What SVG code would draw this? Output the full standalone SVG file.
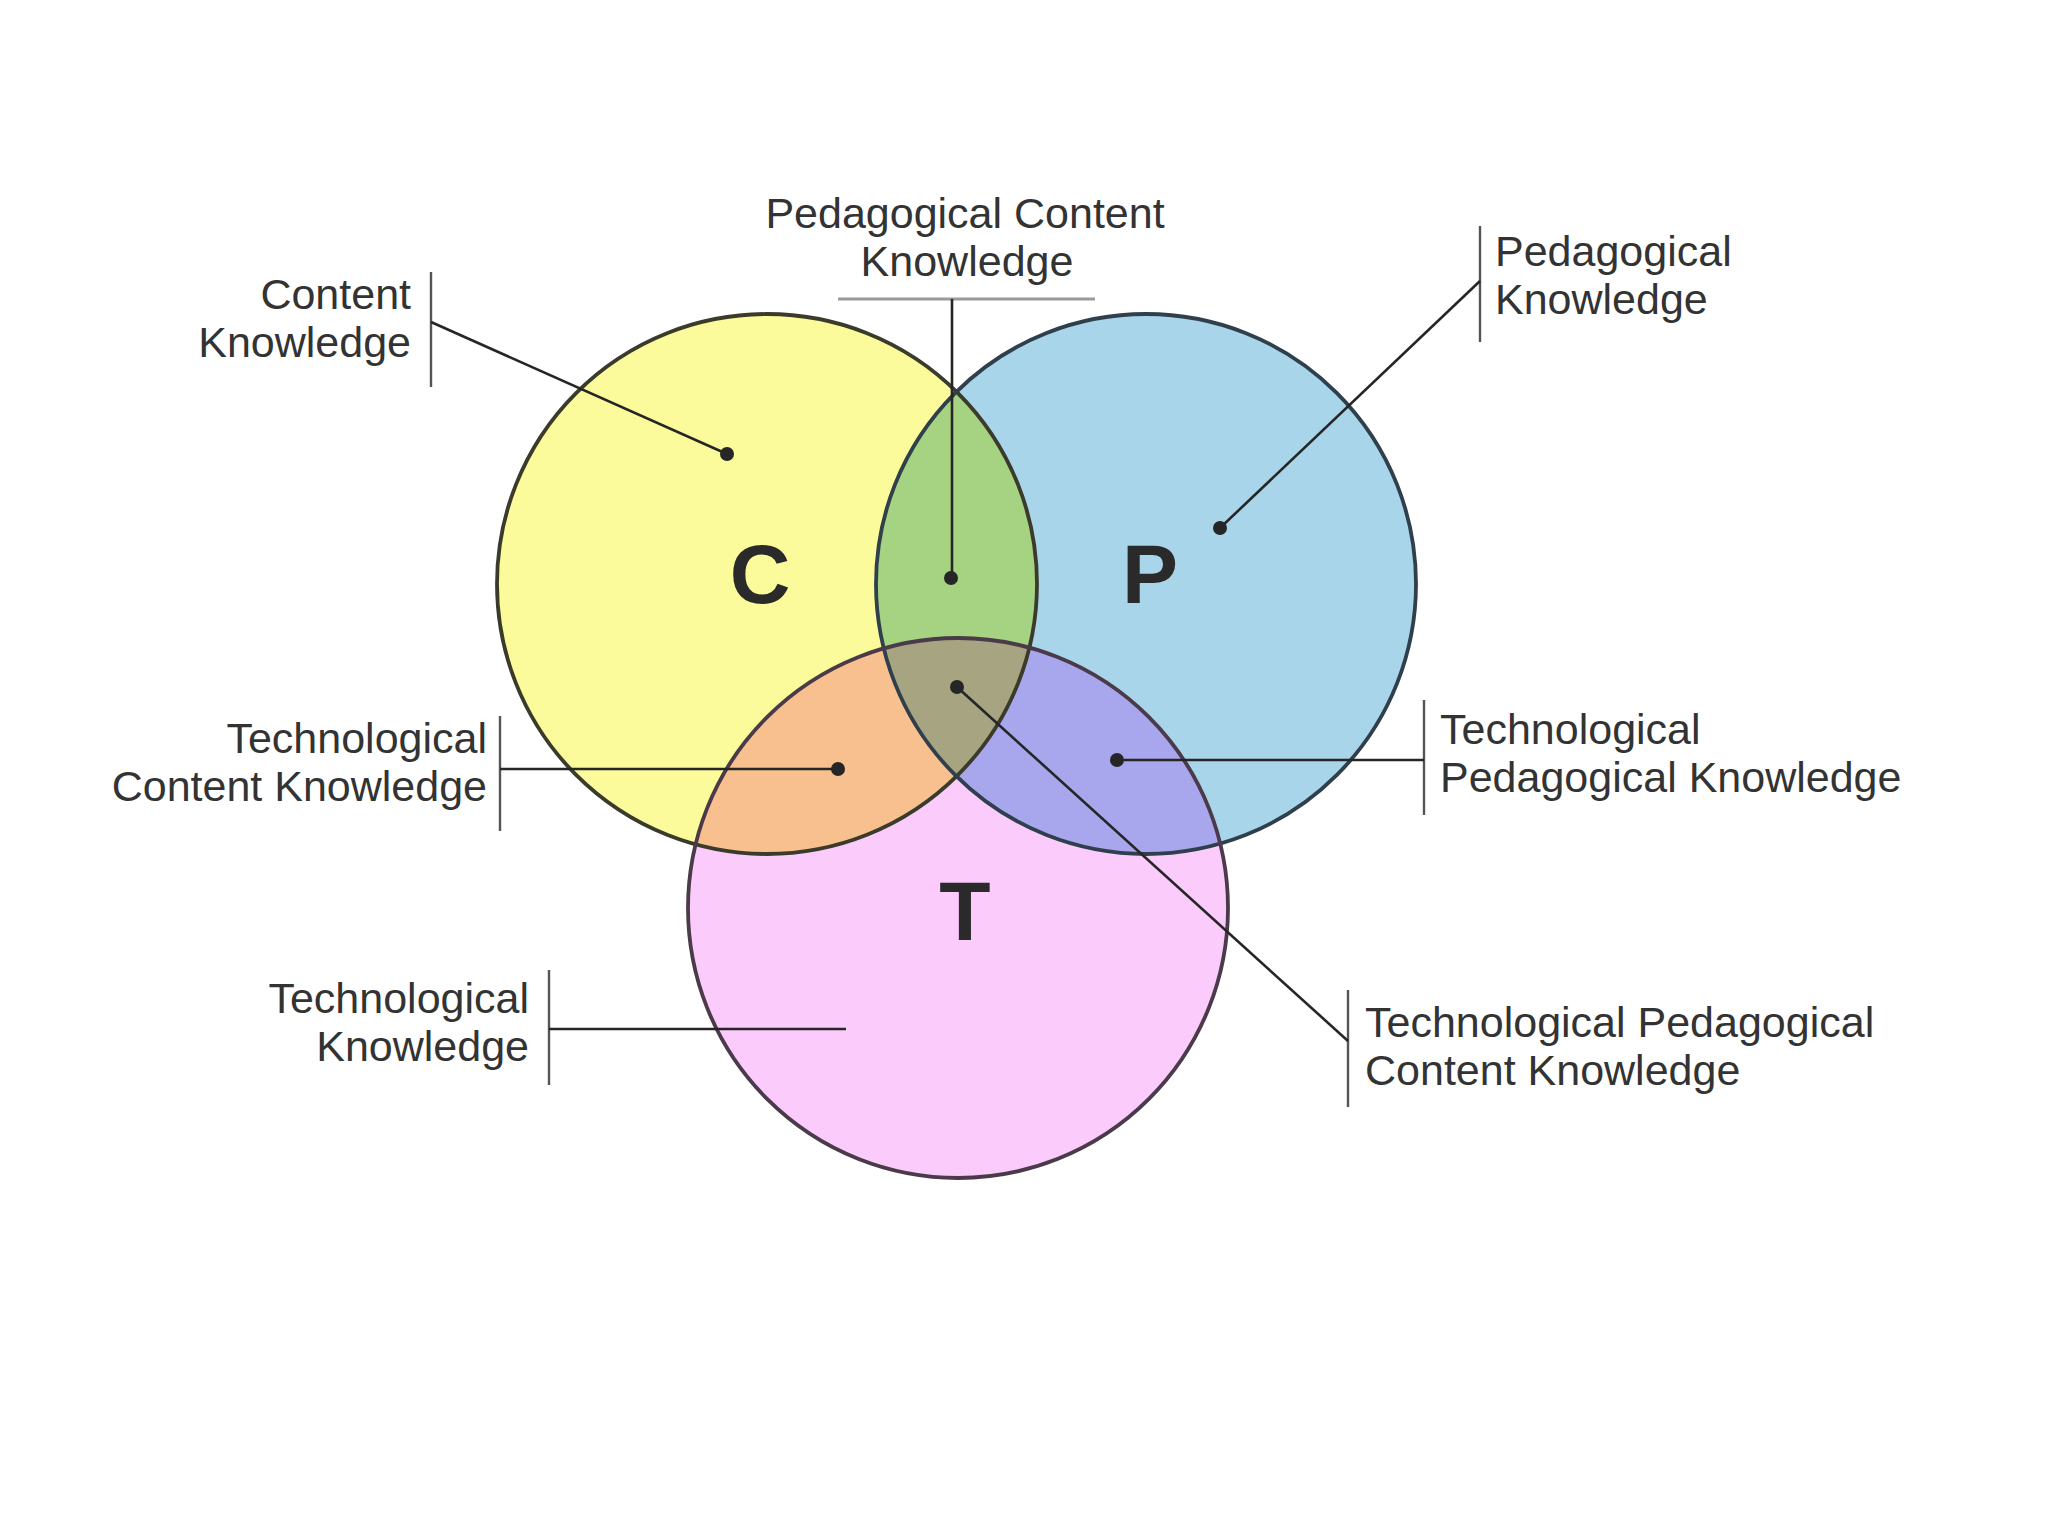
<svg xmlns="http://www.w3.org/2000/svg" width="2048" height="1536" viewBox="0 0 2048 1536">
<style>
.lbl{font-family:"Liberation Sans",Arial,sans-serif;font-size:43px;fill:#333333}
.big{font-family:"Liberation Sans",Arial,sans-serif;font-size:84px;font-weight:bold;fill:#2a2a2a}
.lead{stroke:#262626;stroke-width:2.6;fill:none}
.bar{stroke:#555555;stroke-width:2.4;fill:none}
.dot{fill:#262626}
.ring{fill:none;stroke-width:3.8}
</style>
<defs>
<clipPath id="clipC"><circle cx="767" cy="584" r="270"/></clipPath>
<clipPath id="clipP"><circle cx="1146" cy="584" r="270"/></clipPath>
</defs>
<rect width="2048" height="1536" fill="#ffffff"/>
<g id="circle-C">
<circle cx="767" cy="584" r="270" fill="#fcfb9b"/>
</g>
<g id="circle-P">
<circle cx="1146" cy="584" r="270" fill="#a9d5ea"/>
</g>
<g id="circle-T">
<circle cx="958" cy="908" r="270" fill="#fbcbfb"/>
</g>
<g id="overlap-CP" clip-path="url(#clipC)"><circle cx="1146" cy="584" r="270" fill="#a5d381"/></g>
<g id="overlap-CT" clip-path="url(#clipC)"><circle cx="958" cy="908" r="270" fill="#f7c08e"/></g>
<g id="overlap-PT" clip-path="url(#clipP)"><circle cx="958" cy="908" r="270" fill="#a8a7ee"/></g>
<g id="overlap-CPT" clip-path="url(#clipC)"><g clip-path="url(#clipP)"><circle cx="958" cy="908" r="270" fill="#a6a481"/></g></g>
<g id="rings">
<circle class="ring" cx="767" cy="584" r="270" stroke="#3b3b2c"/>
<circle class="ring" cx="1146" cy="584" r="270" stroke="#2f3f4c"/>
<circle class="ring" cx="958" cy="908" r="270" stroke="#4a3a4a"/>
</g>
<g id="letters">
<text class="big" x="760" y="603" text-anchor="middle">C</text>
<text class="big" x="1150" y="603" text-anchor="middle">P</text>
<text class="big" x="965" y="940" text-anchor="middle">T</text>
</g>
<g id="connectors">
<line class="bar" x1="431" y1="272" x2="431" y2="387"/>
<line class="lead" x1="431" y1="322" x2="727" y2="454"/>
<circle class="dot" cx="727" cy="454" r="7"/>
<line x1="838" y1="299" x2="1095" y2="299" stroke="#9a9a9a" stroke-width="3"/>
<line class="lead" x1="952" y1="299" x2="952" y2="578"/>
<circle class="dot" cx="951" cy="578" r="7"/>
<line class="bar" x1="1480" y1="226" x2="1480" y2="342"/>
<line class="lead" x1="1480" y1="281" x2="1220" y2="528"/>
<circle class="dot" cx="1220" cy="528" r="7"/>
<line class="bar" x1="500" y1="716" x2="500" y2="831"/>
<line class="lead" x1="500" y1="769" x2="838" y2="769"/>
<circle class="dot" cx="838" cy="769" r="7"/>
<line class="bar" x1="1424" y1="700" x2="1424" y2="815"/>
<line class="lead" x1="1424" y1="760" x2="1117" y2="760"/>
<circle class="dot" cx="1117" cy="760" r="7"/>
<line class="bar" x1="549" y1="970" x2="549" y2="1085"/>
<line class="lead" x1="549" y1="1029" x2="846" y2="1029"/>
<line class="bar" x1="1348" y1="990" x2="1348" y2="1107"/>
<line class="lead" x1="957" y1="687" x2="1348" y2="1041"/>
<circle class="dot" cx="957" cy="687" r="7"/>
</g>
<g id="label-CK">
<text class="lbl" text-anchor="end"><tspan x="411" y="309">Content</tspan><tspan x="411" y="357">Knowledge</tspan></text>
</g>
<g id="label-PCK">
<text class="lbl" text-anchor="middle"><tspan x="965" y="228">Pedagogical Content</tspan><tspan x="967" y="276">Knowledge</tspan></text>
</g>
<g id="label-PK">
<text class="lbl"><tspan x="1495" y="266">Pedagogical</tspan><tspan x="1495" y="314">Knowledge</tspan></text>
</g>
<g id="label-TCK">
<text class="lbl" text-anchor="end"><tspan x="487" y="753">Technological</tspan><tspan x="487" y="801">Content Knowledge</tspan></text>
</g>
<g id="label-TPK">
<text class="lbl"><tspan x="1440" y="744">Technological</tspan><tspan x="1440" y="792">Pedagogical Knowledge</tspan></text>
</g>
<g id="label-TK">
<text class="lbl" text-anchor="end"><tspan x="529" y="1013">Technological</tspan><tspan x="529" y="1061">Knowledge</tspan></text>
</g>
<g id="label-TPACK">
<text class="lbl"><tspan x="1365" y="1037">Technological Pedagogical</tspan><tspan x="1365" y="1085">Content Knowledge</tspan></text>
</g>
</svg>
